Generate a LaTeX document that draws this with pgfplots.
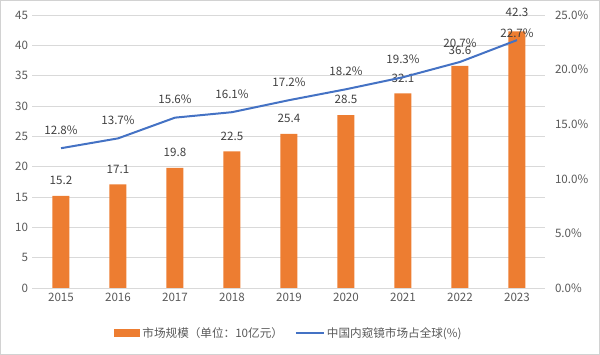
\documentclass[border=0pt]{standalone}
\usepackage{fontspec}
\setmainfont{Noto Sans CJK SC}
\usepackage{pgfplots}
\pgfplotsset{compat=1.18}
\definecolor{barc}{HTML}{ED7D31}
\definecolor{linec}{HTML}{4472C4}
\definecolor{tickc}{HTML}{595959}
\definecolor{gridc}{HTML}{D9D9D9}
\definecolor{labc}{HTML}{404040}
\begin{document}
\begin{tikzpicture}[font=\fontsize{11.6}{13}\selectfont]
\path[use as bounding box] (-32.5pt,-67pt) rectangle (567.5pt,288pt);
\draw[gray!35, line width=0.8pt] (-32.1pt,-66.6pt) rectangle (567.1pt,287.6pt);
\begin{axis}[
  at={(0,0)}, anchor=south west,
  scale only axis, width=513pt, height=273pt,
  xmin=-0.5, xmax=8.5, ymin=0, ymax=45,
  ytick={0,5,...,45},
  xtick={0,...,8},
  xticklabels={2015,2016,2017,2018,2019,2020,2021,2022,2023},
  ymajorgrids, grid style={gridc, line width=0.8pt},
  axis line style={draw=none}, major tick length=0pt,
  tick label style={text=tickc, font=\fontsize{11.6}{13}\selectfont},
  /pgf/number format/assume math mode=true,
  yticklabel style={xshift=-1pt},
  xticklabel style={yshift=-2pt},
  ybar, bar width=17pt,
  nodes near coords,
  every node near coord/.append style={text=labc, font=\fontsize{11.6}{13}\selectfont, yshift=7.5pt, /pgf/number format/fixed, /pgf/number format/fixed zerofill, /pgf/number format/precision=1, /pgf/number format/assume math mode=true},
  coordinate style/.condition={\coordindex==8}{yshift=3.5pt},
  legend style={at={(0.5,-0.165)}, anchor=center, draw=none, fill=none, legend columns=2, font=\fontsize{11.6}{13}\selectfont, text=tickc,
    /tikz/every even column/.append style={column sep=10pt}},
  clip=false,
]
\addplot[fill=barc, draw=none,
  legend image code/.code={\fill[barc] (0pt,-4pt) rectangle (26pt,4pt);}]
  coordinates {(0,15.2) (1,17.1) (2,19.8) (3,22.5) (4,25.4) (5,28.5) (6,32.1) (7,36.6) (8,42.3)};
\addlegendentry{市场规模（单位：10亿元）}
\addlegendimage{legend image code/.code={\draw[linec, line width=2pt] (0pt,0pt) -- (28pt,0pt);}}
\addlegendentry{中国内窥镜市场占全球(\%)}
\end{axis}
\begin{axis}[
  at={(0,0)}, anchor=south west,
  scale only axis, width=513pt, height=273pt,
  xmin=-0.5, xmax=8.5, ymin=0, ymax=25,
  ytick={0,5,...,25},
  axis y line*=right, axis x line=none,
  axis line style={draw=none}, major tick length=0pt,
  tick label style={text=tickc, font=\fontsize{11.6}{13}\selectfont},
  yticklabel={\pgfmathprintnumber[fixed,fixed zerofill,precision=1,assume math mode=true]{\tick}\%},
  yticklabel style={xshift=6pt},
  nodes near coords={\pgfmathprintnumber[fixed,fixed zerofill,precision=1,assume math mode=true]{\pgfplotspointmeta}\%},
  every node near coord/.append style={text=labc, font=\fontsize{11.6}{13}\selectfont, yshift=9.5pt},
  coordinate style/.condition={\coordindex==8}{yshift=-11pt},
  clip=false,
]
\addplot[linec, line width=2pt, mark=none]
  coordinates {(0,12.8) (1,13.7) (2,15.6) (3,16.1) (4,17.2) (5,18.2) (6,19.3) (7,20.7) (8,22.7)};
\end{axis}
\end{tikzpicture}
\end{document}
